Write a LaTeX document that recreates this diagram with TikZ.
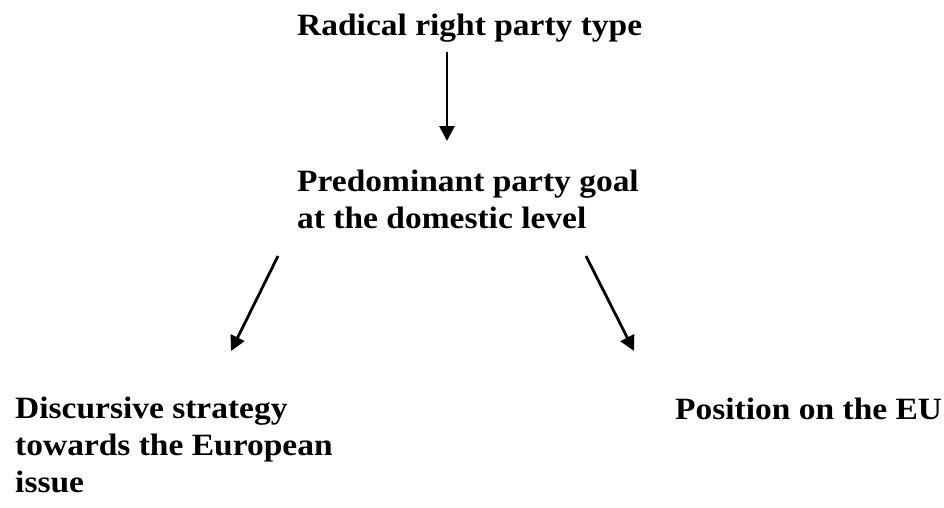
\documentclass[tikz,border=0pt]{standalone}
\usepackage{fontspec}
\setmainfont{Liberation Serif}[FakeStretch=1.08]
\usetikzlibrary{arrows.meta}
\begin{document}
\begin{tikzpicture}[x=1pt,y=-1pt,
  lbl/.style={anchor=base west,inner sep=0pt,align=left,
    font=\bfseries\fontsize{31}{36.8}\selectfont},
  conn/.style={line width=2.8pt,-{Triangle[width=15pt,length=15pt]}}]
\useasboundingbox (0,0) rectangle (944,507);
\node[lbl] (type) at (297,35) {Radical right party type};
\node[lbl] (goal) at (297,228) {Predominant party goal\\at the domestic level};
\node[lbl] (disc) at (15,492) {Discursive strategy\\towards the European\\issue};
\node[lbl] (pos) at (675,419) {Position on the EU};
\coordinate (a1s) at (447,52);
\coordinate (a1e) at (447,141);
\coordinate (a2s) at (278,256);
\coordinate (a2e) at (231,351);
\coordinate (a3s) at (586,256);
\coordinate (a3e) at (634,351);
\draw[conn] (a1s) -- (a1e);
\draw[conn] (a2s) -- (a2e);
\draw[conn] (a3s) -- (a3e);
\end{tikzpicture}
\end{document}
